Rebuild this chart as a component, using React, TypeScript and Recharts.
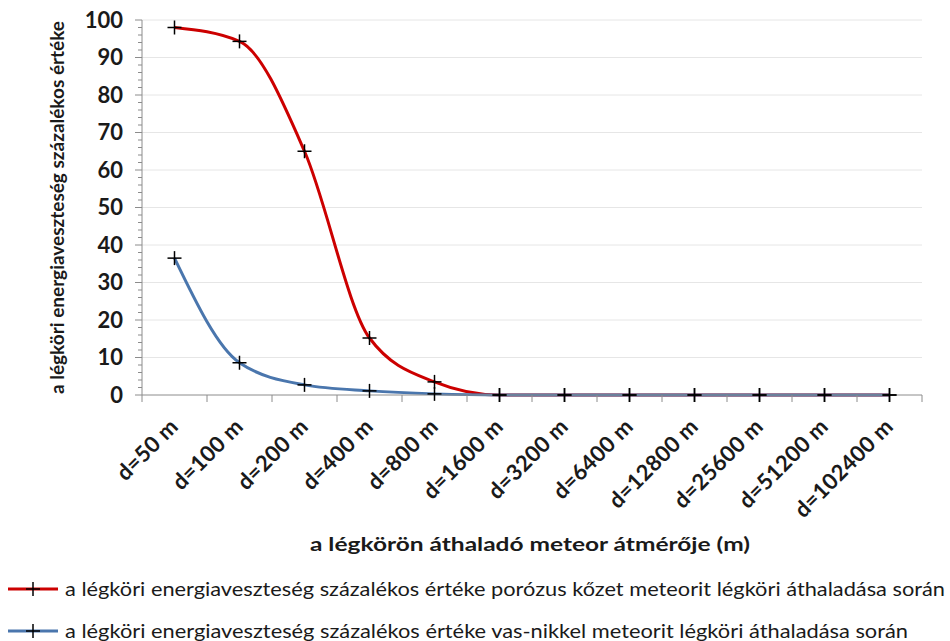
import React from 'react';
import { LineChart, Line, XAxis, YAxis, ReferenceLine } from 'recharts';

const categories = ['d=50 m', 'd=100 m', 'd=200 m', 'd=400 m', 'd=800 m', 'd=1600 m', 'd=3200 m', 'd=6400 m', 'd=12800 m', 'd=25600 m', 'd=51200 m', 'd=102400 m'];
const porousValues = [98, 94.3, 65, 15.2, 3.5, 0, 0, 0, 0, 0, 0, 0];
const ironNickelValues = [36.5, 8.6, 2.7, 1.1, 0.3, 0, 0, 0, 0, 0, 0, 0];
const majorTicks = [10, 20, 30, 40, 50, 60, 70, 80, 90, 100];
const allTicks = [0, 2, 4, 6, 8, 10, 12, 14, 16, 18, 20, 22, 24, 26, 28, 30, 32, 34, 36, 38, 40, 42, 44, 46, 48, 50, 52, 54, 56, 58, 60, 62, 64, 66, 68, 70, 72, 74, 76, 78, 80, 82, 84, 86, 88, 90, 92, 94, 96, 98, 100];

const porousName = 'a légköri energiaveszteség százalékos értéke porózus kőzet meteorit légköri áthaladása során';
const ironName = 'a légköri energiaveszteség százalékos értéke vas-nikkel meteorit légköri áthaladása során';
const yTitle = 'a légköri energiaveszteség százalékos értéke';
const xTitle = 'a légkörön áthaladó  meteor átmérője (m)';

const data = categories.map((name, i) => ({ name, porous: porousValues[i], iron: ironNickelValues[i] }));

const FONT = 'Lato, "Liberation Sans", sans-serif';
const AXIS = '#8c8c8c';
const RED = '#cc0000';
const BLUE = '#4a76ad';
const BAND = 65;

const Plus = (props: any) => {
  const { cx, cy } = props;
  if (cx == null || cy == null) return null;
  return (
    <g>
      <line x1={cx - 7} x2={cx + 7} y1={cy} y2={cy} stroke="#000" strokeWidth={1.5} />
      <line x1={cx} x2={cx} y1={cy - 7} y2={cy + 7} stroke="#000" strokeWidth={1.5} />
    </g>
  );
};

const YTick = (props: any) => {
  const { x, y, payload } = props;
  const major = payload.value % 10 === 0;
  return (
    <g>
      <line x1={x - (major ? 7 : 4)} x2={x} y1={y} y2={y} stroke={AXIS} strokeWidth={1} />
      {major && (
        <text x={x - 19} y={y} dy="0.36em" textAnchor="end" fontFamily={FONT} fontWeight={700} fontSize={22} fill="#1a1a1a">
          {payload.value}
        </text>
      )}
    </g>
  );
};

const XTick = (props: any) => {
  const { x, y, payload, index } = props;
  const last = index === categories.length - 1;
  return (
    <g>
      <line x1={x - BAND / 2} x2={x - BAND / 2} y1={y} y2={y + 7} stroke={AXIS} strokeWidth={1} />
      {last && <line x1={x + BAND / 2} x2={x + BAND / 2} y1={y} y2={y + 7} stroke={AXIS} strokeWidth={1} />}
      <text transform={`translate(${x + 5},${y + 33}) rotate(-45)`} textAnchor="end" fontFamily={FONT} fontWeight={700} fontSize={22} letterSpacing={0.3} fill="#1a1a1a">
        {payload.value}
      </text>
    </g>
  );
};

const YLabel = (props: any) => {
  const vb = props.viewBox || { x: 0, y: 20, width: 142, height: 375 };
  const cy = vb.y + vb.height / 2;
  return (
    <text transform={`translate(64,${cy}) rotate(-90)`} textAnchor="middle" fontFamily={FONT} fontWeight={700} fontSize={18} fill="#1a1a1a" textLength={373} lengthAdjust="spacingAndGlyphs">
      {yTitle}
    </text>
  );
};

const XLabel = (props: any) => {
  const vb = props.viewBox || { x: 142, y: 395, width: 780, height: 246 };
  const cx = vb.x + vb.width / 2 - 2;
  return (
    <text x={cx} y={vb.y + 156} textAnchor="middle" fontFamily={FONT} fontWeight={700} fontSize={19} fill="#1a1a1a" textLength={440} lengthAdjust="spacingAndGlyphs">
      {xTitle}
    </text>
  );
};

const LegendRow = ({ y, color, label, len }: { y: number; color: string; label: string; len: number }) => (
  <g>
    <line x1={8} x2={58} y1={y} y2={y} stroke={color} strokeWidth={3} />
    <line x1={26} x2={40} y1={y} y2={y} stroke="#000" strokeWidth={1.5} />
    <line x1={33} x2={33} y1={y - 7} y2={y + 7} stroke="#000" strokeWidth={1.5} />
    <text x={65} y={y} dy="0.36em" fontFamily={FONT} fontSize={20} fill="#1a1a1a" textLength={len} lengthAdjust="spacingAndGlyphs">
      {label}
    </text>
  </g>
);

export default function App() {
  return (
    <div style={{ position: 'absolute', left: 0, top: 0, width: 950, height: 641, background: '#fff' }}>
      <LineChart width={950} height={641} data={data} margin={{ top: 20, right: 28, left: 0, bottom: 0 }}>
        {majorTicks.map((v) => (
          <ReferenceLine key={v} y={v} stroke="#e6e6e6" strokeWidth={1} ifOverflow="visible" />
        ))}
        <XAxis
          dataKey="name"
          interval={0}
          height={246}
          padding={{ left: BAND / 2, right: BAND / 2 }}
          tickLine={false}
          tickSize={0}
          tickMargin={0}
          axisLine={{ stroke: AXIS, strokeWidth: 1 }}
          tick={<XTick />}
          label={<XLabel />}
        />
        <YAxis
          width={142}
          domain={[0, 100]}
          ticks={allTicks}
          interval={0}
          tickLine={false}
          tickSize={0}
          tickMargin={0}
          axisLine={{ stroke: AXIS, strokeWidth: 1 }}
          tick={<YTick />}
          label={<YLabel />}
        />
        <Line type="monotone" dataKey="porous" stroke={RED} strokeWidth={3} dot={<Plus />} activeDot={false} isAnimationActive={false} />
        <Line type="monotone" dataKey="iron" stroke={BLUE} strokeWidth={3} dot={<Plus />} activeDot={false} isAnimationActive={false} />
      </LineChart>
      <svg width={950} height={641} style={{ position: 'absolute', left: 0, top: 0, pointerEvents: 'none' }}>
        <LegendRow y={589} color={RED} label={porousName} len={880} />
        <LegendRow y={631} color={BLUE} label={ironName} len={843} />
      </svg>
    </div>
  );
}
